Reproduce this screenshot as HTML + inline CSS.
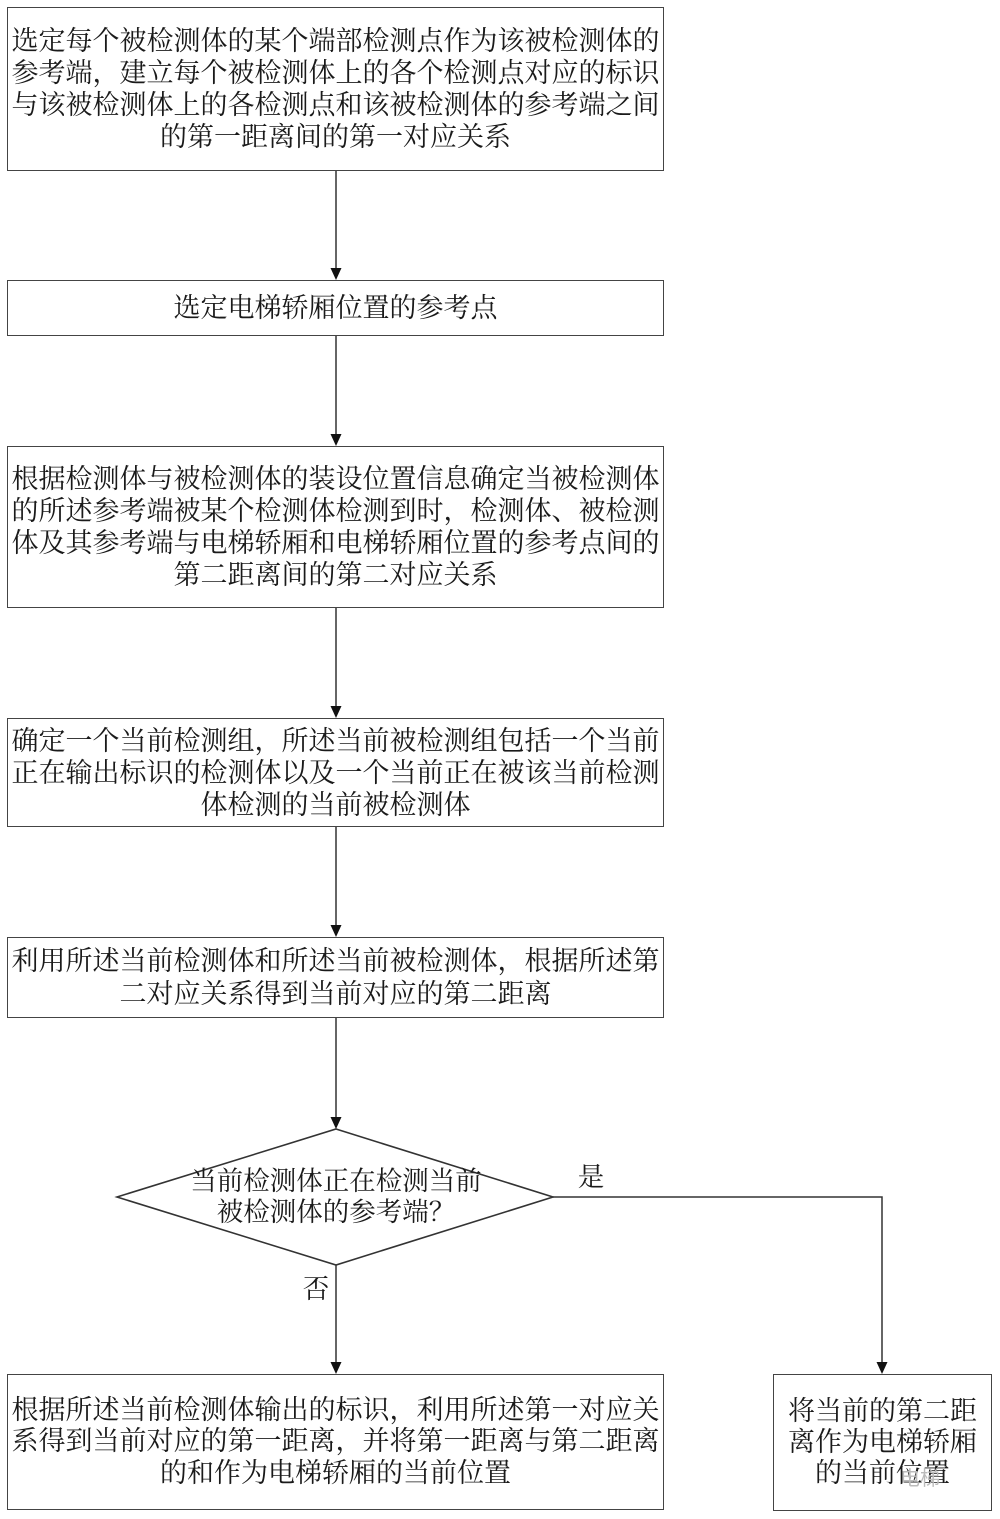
<!DOCTYPE html>
<html>
<head>
<meta charset="utf-8">
<style>
  html, body { margin:0; padding:0; background:#fff; }
  body { width:1000px; height:1519px; position:relative; overflow:hidden; }
  .box {
    position:absolute; box-sizing:border-box;
    border:1.6px solid #444; background:#fff;
    display:flex; align-items:center; justify-content:center;
    font-family:"Liberation Serif","Noto Serif CJK SC",serif;
    font-size:27px; line-height:32px; color:#1a1a1a;
    text-align:center; white-space:nowrap;
  }
  .txt {
    position:absolute;
    font-family:"Liberation Serif","Noto Serif CJK SC",serif;
    font-size:26.5px; line-height:31px; color:#1a1a1a;
    text-align:center; white-space:nowrap;
  }
  svg { position:absolute; left:0; top:0; }
</style>
</head>
<body>
<svg width="1000" height="1519" viewBox="0 0 1000 1519">
  <g stroke="#333" stroke-width="1.5" fill="none">
    <line x1="336" y1="171" x2="336" y2="270"/>
    <line x1="336" y1="336" x2="336" y2="436"/>
    <line x1="336" y1="608" x2="336" y2="708"/>
    <line x1="336" y1="827" x2="336" y2="927"/>
    <line x1="336" y1="1018" x2="336" y2="1119"/>
    <line x1="336" y1="1265" x2="336" y2="1364"/>
    <polyline points="553,1197 882,1197 882,1364"/>
    <polygon points="336,1129 553,1197 336,1265 117,1197" stroke="#333" stroke-width="1.6" fill="#fff"/>
  </g>
  <g fill="#111">
    <polygon points="330.5,268 341.5,268 336,280"/>
    <polygon points="330.5,434 341.5,434 336,446"/>
    <polygon points="330.5,706 341.5,706 336,718"/>
    <polygon points="330.5,925 341.5,925 336,937"/>
    <polygon points="330.5,1117 341.5,1117 336,1129"/>
    <polygon points="330.5,1362 341.5,1362 336,1374"/>
    <polygon points="876.5,1362 887.5,1362 882,1374"/>
  </g>
</svg>

<div class="box" style="left:7px;top:7px;width:657px;height:164px;">
  <div>选定每个被检测体的某个端部检测点作为该被检测体的<br>参考端，建立每个被检测体上的各个检测点对应的标识<br>与该被检测体上的各检测点和该被检测体的参考端之间<br>的第一距离间的第一对应关系</div>
</div>

<div class="box" style="left:7px;top:280px;width:657px;height:56px;">
  <div>选定电梯轿厢位置的参考点</div>
</div>

<div class="box" style="left:7px;top:446px;width:657px;height:162px;">
  <div>根据检测体与被检测体的装设位置信息确定当被检测体<br>的所述参考端被某个检测体检测到时，检测体、被检测<br>体及其参考端与电梯轿厢和电梯轿厢位置的参考点间的<br>第二距离间的第二对应关系</div>
</div>

<div class="box" style="left:7px;top:718px;width:657px;height:109px;">
  <div>确定一个当前检测组，所述当前被检测组包括一个当前<br>正在输出标识的检测体以及一个当前正在被该当前检测<br>体检测的当前被检测体</div>
</div>

<div class="box" style="left:7px;top:937px;width:657px;height:81px;">
  <div style="line-height:33px;">利用所述当前检测体和所述当前被检测体，根据所述第<br>二对应关系得到当前对应的第二距离</div>
</div>

<div class="txt" style="left:136px;top:1166px;width:400px;">当前检测体正在检测当前<br>被检测体的参考端？</div>

<div class="txt" style="left:576px;top:1162px;width:30px;">是</div>
<div class="txt" style="left:301px;top:1274px;width:30px;">否</div>

<div class="box" style="left:7px;top:1374px;width:657px;height:136px;">
  <div style="line-height:31.5px;">根据所述当前检测体输出的标识，利用所述第一对应关<br>系得到当前对应的第一距离，并将第一距离与第二距离<br>的和作为电梯轿厢的当前位置</div>
</div>

<div class="box" style="left:773px;top:1374px;width:219px;height:137px;">
  <div style="line-height:31px;">将当前的第二距<br>离作为电梯轿厢<br>的当前位置</div>
</div>
<div style="position:absolute;left:900px;top:1462px;font-family:'Liberation Sans','Noto Sans CJK SC',sans-serif;font-size:20px;color:#bbb;">电梯</div>
</body>
</html>
